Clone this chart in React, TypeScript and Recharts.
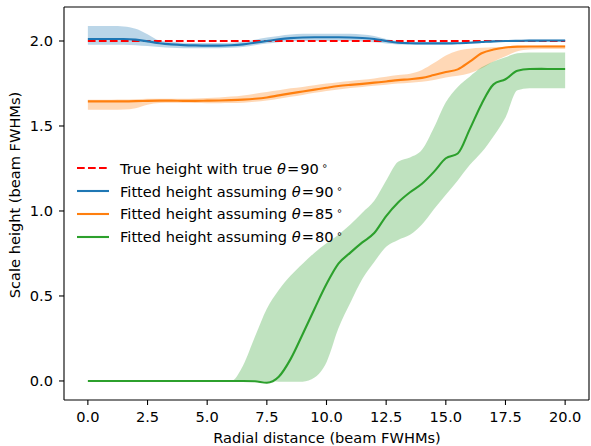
import React from 'react';
import { ComposedChart, Line, Area, XAxis, YAxis, ReferenceLine, Legend, Label } from 'recharts';

const FONT = '"DejaVu Sans", sans-serif';
const FS = 14.6;

const xVals = [0, 0.5, 1, 1.5, 2, 2.5, 3, 3.5, 4, 4.5, 5, 5.5, 6, 6.5, 7, 7.5, 8, 8.5, 9, 9.5, 10, 10.5, 11, 11.5, 12, 12.5, 13, 13.5, 14, 14.5, 15, 15.5, 16, 16.5, 17, 17.5, 18, 18.5, 19, 19.5, 20];

const trueHeight = [2, 2, 2, 2, 2, 2, 2, 2, 2, 2, 2, 2, 2, 2, 2, 2, 2, 2, 2, 2, 2, 2, 2, 2, 2, 2, 2, 2, 2, 2, 2, 2, 2, 2, 2, 2, 2, 2, 2, 2, 2];

const blueLine = [2.012, 2.012, 2.012, 2.012, 2.008, 1.998, 1.987, 1.980, 1.976, 1.974, 1.973, 1.973, 1.975, 1.980, 1.990, 2.000, 2.010, 2.017, 2.021, 2.022, 2.022, 2.022, 2.021, 2.018, 2.012, 2.000, 1.990, 1.987, 1.986, 1.986, 1.986, 1.987, 1.990, 1.994, 1.998, 2.000, 2.001, 2.002, 2.002, 2.003, 2.003];
const blueLow = [1.978, 1.978, 1.978, 1.978, 1.975, 1.970, 1.965, 1.960, 1.958, 1.957, 1.957, 1.957, 1.960, 1.965, 1.975, 1.985, 1.993, 1.998, 2.000, 2.000, 2.000, 2.000, 2.000, 1.997, 1.992, 1.985, 1.980, 1.980, 1.980, 1.980, 1.980, 1.982, 1.985, 1.988, 1.992, 1.995, 1.996, 1.997, 1.997, 1.997, 1.997];
const blueHigh = [2.088, 2.088, 2.088, 2.086, 2.072, 2.040, 2.003, 1.995, 1.990, 1.988, 1.988, 1.988, 1.990, 1.997, 2.007, 2.020, 2.030, 2.038, 2.042, 2.043, 2.043, 2.043, 2.042, 2.038, 2.030, 2.012, 1.998, 1.994, 1.993, 1.993, 1.993, 1.993, 1.996, 2.000, 2.004, 2.005, 2.006, 2.008, 2.008, 2.008, 2.008];

const orangeLine = [1.645, 1.645, 1.645, 1.645, 1.646, 1.648, 1.649, 1.649, 1.648, 1.648, 1.649, 1.650, 1.652, 1.655, 1.660, 1.668, 1.680, 1.692, 1.703, 1.714, 1.725, 1.735, 1.742, 1.748, 1.755, 1.762, 1.770, 1.775, 1.783, 1.800, 1.818, 1.833, 1.878, 1.928, 1.950, 1.962, 1.967, 1.968, 1.968, 1.968, 1.968];
const orangeLow = [1.595, 1.595, 1.595, 1.597, 1.605, 1.625, 1.635, 1.637, 1.636, 1.635, 1.634, 1.634, 1.635, 1.637, 1.642, 1.650, 1.660, 1.672, 1.683, 1.695, 1.706, 1.715, 1.723, 1.730, 1.737, 1.743, 1.750, 1.755, 1.760, 1.770, 1.785, 1.795, 1.810, 1.840, 1.880, 1.910, 1.940, 1.950, 1.953, 1.953, 1.953];
const orangeHigh = [1.655, 1.655, 1.655, 1.656, 1.658, 1.660, 1.660, 1.660, 1.660, 1.662, 1.665, 1.668, 1.673, 1.680, 1.690, 1.700, 1.710, 1.722, 1.730, 1.740, 1.750, 1.758, 1.765, 1.772, 1.780, 1.790, 1.800, 1.808, 1.830, 1.870, 1.915, 1.943, 1.955, 1.960, 1.963, 1.966, 1.970, 1.972, 1.974, 1.975, 1.975];

const greenLine = [0, 0, 0, 0, 0, 0, 0, 0, 0, 0, 0, 0, 0, 0, -0.002, -0.01, 0.025, 0.13, 0.275, 0.425, 0.57, 0.69, 0.755, 0.815, 0.87, 0.97, 1.05, 1.11, 1.16, 1.23, 1.31, 1.338, 1.48, 1.63, 1.745, 1.775, 1.825, 1.835, 1.836, 1.835, 1.835];
const greenLow = [0, 0, 0, 0, 0, 0, 0, 0, 0, 0, 0, 0, 0, 0, 0, 0, -0.004, -0.005, -0.004, 0.02, 0.11, 0.31, 0.46, 0.6, 0.7, 0.79, 0.83, 0.86, 0.92, 1.01, 1.095, 1.18, 1.27, 1.345, 1.44, 1.55, 1.71, 1.722, 1.722, 1.722, 1.722];
const greenHigh = [0, 0, 0, 0, 0, 0, 0, 0, 0, 0, 0, 0, 0, 0.09, 0.26, 0.425, 0.535, 0.62, 0.69, 0.755, 0.81, 0.86, 0.92, 0.99, 1.06, 1.18, 1.29, 1.315, 1.36, 1.49, 1.64, 1.73, 1.79, 1.845, 1.88, 1.905, 1.928, 1.932, 1.932, 1.932, 1.932];

const xTicks = [0, 2.5, 5, 7.5, 10, 12.5, 15, 17.5, 20];
const yTicks = [0, 0.5, 1, 1.5, 2];

const xLabel = 'Radial distance (beam FWHMs)';
const yLabel = 'Scale height (beam FWHMs)';

const legendItems = [
  { prefix: 'True height with true ', angle: '90', color: '#ff0000', dashed: true },
  { prefix: 'Fitted height assuming ', angle: '90', color: '#1f77b4', dashed: false },
  { prefix: 'Fitted height assuming ', angle: '85', color: '#ff7f0e', dashed: false },
  { prefix: 'Fitted height assuming ', angle: '80', color: '#2ca02c', dashed: false },
];

const data = xVals.map((x, i) => ({
  x,
  trueH: trueHeight[i],
  blue: blueLine[i],
  blueBand: [blueLow[i], blueHigh[i]],
  orange: orangeLine[i],
  orangeBand: [orangeLow[i], orangeHigh[i]],
  green: greenLine[i],
  greenBand: [greenLow[i], greenHigh[i]],
}));

const renderLegend = () => (
  <div style={{ position: 'relative', width: 290, height: 95, fontFamily: FONT, fontSize: FS, color: '#000' }}>
    {legendItems.map((it, i) => (
      <div
        key={i}
        style={{
          position: 'absolute',
          left: 0,
          top: i * 22.8,
          height: 22.8,
          display: 'flex',
          alignItems: 'center',
          whiteSpace: 'nowrap',
        }}
      >
        <svg width={32} height={4} style={{ display: 'block' }}>
          <line
            x1={0}
            y1={2}
            x2={32}
            y2={2}
            stroke={it.color}
            strokeWidth={2.1}
            strokeDasharray={it.dashed ? '7.7 3.3' : undefined}
          />
        </svg>
        <span style={{ marginLeft: 11 }}>
          {it.prefix}
          <span style={{ fontStyle: 'italic' }}>θ</span>
          <span style={{ margin: '0 1px 0 1px' }}>=</span>
          {it.angle}
          <span style={{ fontSize: 10, position: 'relative', top: -5, marginLeft: 3 }}>∘</span>
        </span>
      </div>
    ))}
  </div>
);

export default function App() {
  return (
    <div style={{ position: 'absolute', left: 0, top: 0, width: 591, height: 446, background: '#fff' }}>
      <ComposedChart
        width={591}
        height={446}
        data={data}
        margin={{ top: 7, right: 2, bottom: 16, left: 0 }}
      >
        <XAxis
          dataKey="x"
          type="number"
          domain={[-1, 21]}
          ticks={xTicks}
          interval={0}
          allowDataOverflow
          tickFormatter={(v: number) => v.toFixed(1)}
          height={30}
          tickSize={5}
          tickMargin={7}
          axisLine={{ stroke: '#000', strokeWidth: 1.1 }}
          tickLine={{ stroke: '#000', strokeWidth: 1.1 }}
          tick={{ fill: '#000', fontSize: FS, fontFamily: FONT }}
        >
          <Label
            content={() => (
              <text x={327} y={442.7} textAnchor="middle" fill="#000" fontSize={FS} fontFamily={FONT}>
                {xLabel}
              </text>
            )}
          />
        </XAxis>
        <YAxis
          type="number"
          domain={[-0.112, 2.2]}
          ticks={yTicks}
          interval={0}
          allowDataOverflow
          tickFormatter={(v: number) => v.toFixed(1)}
          width={64}
          tickSize={5}
          tickMargin={6}
          axisLine={{ stroke: '#000', strokeWidth: 1.1 }}
          tickLine={{ stroke: '#000', strokeWidth: 1.1 }}
          tick={{ fill: '#000', fontSize: FS, fontFamily: FONT }}
        >
          <Label
            content={() => (
              <text
                x={20}
                y={195}
                transform="rotate(-90, 20, 195)"
                textAnchor="middle"
                fill="#000"
                fontSize={FS}
                fontFamily={FONT}
              >
                {yLabel}
              </text>
            )}
          />
        </YAxis>
        <ReferenceLine y={2.2} stroke="#000" strokeWidth={1.1} />
        <ReferenceLine x={21} stroke="#000" strokeWidth={1.1} />

        <Area dataKey="blueBand" type="monotone" stroke="none" fill="#1f77b4" fillOpacity={0.3} isAnimationActive={false} activeDot={false} />
        <Area dataKey="orangeBand" type="monotone" stroke="none" fill="#ff7f0e" fillOpacity={0.3} isAnimationActive={false} activeDot={false} />
        <Area dataKey="greenBand" type="monotone" stroke="none" fill="#2ca02c" fillOpacity={0.3} isAnimationActive={false} activeDot={false} />

        <Line dataKey="trueH" type="linear" stroke="#ff0000" strokeWidth={2.1} strokeDasharray="7.7 3.3" dot={false} activeDot={false} isAnimationActive={false} />
        <Line dataKey="blue" type="monotone" stroke="#1f77b4" strokeWidth={2.1} dot={false} activeDot={false} isAnimationActive={false} />
        <Line dataKey="orange" type="monotone" stroke="#ff7f0e" strokeWidth={2.1} dot={false} activeDot={false} isAnimationActive={false} />
        <Line dataKey="green" type="monotone" stroke="#2ca02c" strokeWidth={2.1} dot={false} activeDot={false} isAnimationActive={false} />

        <Legend
          layout="vertical"
          align="center"
          verticalAlign="middle"
          wrapperStyle={{ position: 'absolute', left: 77, top: 157, width: 290, height: 95 }}
          content={renderLegend}
        />
      </ComposedChart>
    </div>
  );
}
